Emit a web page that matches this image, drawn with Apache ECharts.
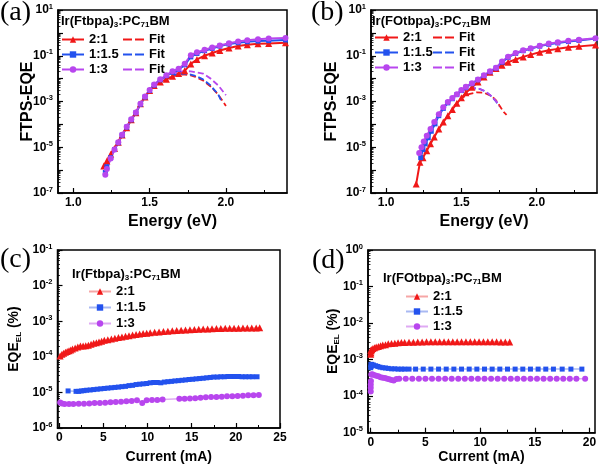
<!DOCTYPE html>
<html>
<head>
<meta charset="utf-8">
<title>FTPS-EQE and EQE_EL</title>
<script src="https://cdn.jsdelivr.net/npm/echarts@6/dist/echarts.min.js"></script>
<style>
  * { margin: 0; padding: 0; }
  #main { width: 600px; height: 469px; }
</style>
</head>
<body>
<div id="main"></div>
<script>
// ---------- data ----------
// (a) Ir(Ftbpa)3:PC71BM, FTPS-EQE vs energy (eV)
var aE_red  = [1.20,1.22,1.245,1.27,1.295,1.32,1.35,1.38,1.41,1.44,1.47,1.50,1.53,1.57,1.61,1.65,1.69,1.73,1.77,1.81,1.86,1.91,1.96,2.02,2.08,2.14,2.21,2.28,2.39];
var aY_red  = [1.5e-6,2.5e-6,5.0e-6,8.9e-6,1.66e-5,3.4e-5,7.1e-5,1.58e-4,3.2e-4,7.9e-4,1.58e-3,3.0e-3,5.0e-3,7.1e-3,9.3e-3,1.26e-2,1.66e-2,2.2e-2,4.4e-2,6.9e-2,0.100,0.132,0.170,0.219,0.269,0.302,0.331,0.347,0.372];
var aE_bp   = [1.21,1.22,1.245,1.27,1.295,1.32,1.35,1.38,1.41,1.44,1.47,1.50,1.53,1.57,1.61,1.65,1.69,1.73,1.77,1.81,1.86,1.91,1.96,2.02,2.08,2.14,2.21,2.28,2.39];
var aY_blue = [7.9e-7,1.41e-6,3.5e-6,7.9e-6,1.58e-5,3.4e-5,7.6e-5,1.58e-4,3.2e-4,7.6e-4,1.58e-3,3.0e-3,5.2e-3,8.9e-3,1.35e-2,1.9e-2,2.5e-2,4.0e-2,8.9e-2,0.126,0.166,0.209,0.263,0.324,0.372,0.407,0.437,0.457,0.490];
var aY_pur  = [6.3e-7,1.12e-6,3.2e-6,7.9e-6,1.66e-5,3.5e-5,7.9e-5,1.66e-4,3.3e-4,7.9e-4,1.66e-3,3.16e-3,5.5e-3,9.3e-3,1.41e-2,2.1e-2,2.7e-2,4.5e-2,0.105,0.141,0.182,0.229,0.282,0.355,0.417,0.479,0.525,0.562,0.603];
var aFitE      = [1.50,1.55,1.60,1.65,1.70,1.73,1.77,1.80,1.85,1.90,1.95,2.00];
var aFitE_blue = [1.50,1.55,1.60,1.65,1.70,1.73,1.77,1.80,1.85,1.90,1.95,1.975];
var aFit_red  = [3.2e-3,6.3e-3,1.0e-2,1.32e-2,1.48e-2,1.51e-2,1.38e-2,1.2e-2,8.3e-3,4.5e-3,2.0e-3,6.3e-4];
var aFit_blue = [3.2e-3,6.3e-3,1.05e-2,1.41e-2,1.62e-2,1.66e-2,1.51e-2,1.32e-2,9.3e-3,5.0e-3,2.0e-3,8.9e-4];
var aFit_pur  = [3.2e-3,6.3e-3,1.12e-2,1.66e-2,2.04e-2,2.14e-2,2.09e-2,1.9e-2,1.66e-2,1.0e-2,5.0e-3,1.9e-3];

// (b) Ir(FOtbpa)3:PC71BM
var bE_red  = [1.20,1.225,1.245,1.27,1.295,1.32,1.35,1.38,1.41,1.44,1.47,1.50,1.53,1.57,1.61,1.65,1.69,1.73,1.77,1.81,1.86,1.91,1.96,2.02,2.08,2.14,2.21,2.28,2.39];
var bY_red  = [2.5e-7,2.2e-6,3.5e-6,7.1e-6,1.41e-5,2.8e-5,6.3e-5,1.26e-4,2.4e-4,4.5e-4,8.3e-4,1.45e-3,2.4e-3,4.2e-3,7.1e-3,1.17e-2,1.9e-2,2.8e-2,3.8e-2,5.2e-2,6.9e-2,8.9e-2,0.112,0.141,0.174,0.200,0.234,0.257,0.295];
var bE_blue = [1.23,1.245,1.26,1.28,1.30,1.325,1.35,1.38,1.41,1.44,1.47,1.50,1.53,1.57,1.61,1.65,1.69,1.73,1.77,1.81,1.86,1.91,1.96,2.02,2.08,2.14,2.21,2.28,2.39];
var bY_blue = [3.5e-6,7.9e-6,1.41e-5,2.6e-5,5.0e-5,1.05e-4,2.4e-4,5.0e-4,8.7e-4,1.32e-3,2.0e-3,3.0e-3,4.2e-3,6.0e-3,8.9e-3,1.35e-2,2.0e-2,2.9e-2,5.2e-2,8.5e-2,0.126,0.166,0.204,0.263,0.316,0.363,0.417,0.468,0.562];
var bE_pur  = [1.22,1.235,1.25,1.27,1.295,1.32,1.35,1.38,1.41,1.44,1.47,1.50,1.53,1.57,1.61,1.65,1.69,1.73,1.77,1.81,1.86,1.91,1.96,2.02,2.08,2.14,2.21,2.28,2.39];
var bY_pur  = [5.6e-6,1.0e-5,1.78e-5,3.2e-5,6.3e-5,1.26e-4,2.8e-4,5.6e-4,9.5e-4,1.41e-3,2.1e-3,3.16e-3,4.4e-3,6.3e-3,9.1e-3,1.41e-2,2.1e-2,3.0e-2,5.6e-2,9.1e-2,0.132,0.174,0.214,0.275,0.339,0.389,0.447,0.501,0.589];
var bFitE     = [1.45,1.50,1.55,1.58,1.62,1.66,1.70,1.73,1.75];
var bFitE_red = [1.45,1.50,1.55,1.60,1.65,1.70,1.73,1.76,1.78,1.80];
var bFit_red  = [6.3e-4,1.41e-3,2.1e-3,2.5e-3,2.4e-3,1.74e-3,1.12e-3,5.6e-4,3.5e-4,2.6e-4];
var bFit_blue = [1.66e-3,2.8e-3,3.6e-3,3.8e-3,3.55e-3,2.75e-3,1.66e-3,1.0e-3,6.3e-4];
var bFit_pur  = [1.7e-3,2.9e-3,3.7e-3,3.9e-3,3.6e-3,2.8e-3,1.7e-3,1.05e-3,6.5e-4];

// (c) Ir(Ftbpa)3:PC71BM, EQE_EL (%) vs current (mA)
var cI_red = [0.1,0.3,0.5,0.7,0.9,1.1,1.3,1.5,1.8,2.1,2.4,2.7,3.0,3.3,3.6,3.9,4.2,4.5,4.8,5.1,5.5,5.9,6.3,6.7,7.1,7.5,7.9,8.3,8.7,9.1,9.5,9.9,10.3,10.8,11.3,11.8,12.3,12.8,13.3,13.8,14.3,14.8,15.3,15.8,16.3,16.8,17.3,17.8,18.3,18.8,19.3,19.8,20.3,20.8,21.3,21.8,22.3,22.7];
var cV_red = [1.05e-4,1.17e-4,1.26e-4,1.35e-4,1.41e-4,1.48e-4,1.55e-4,1.66e-4,1.78e-4,1.9e-4,2.0e-4,2.0e-4,2.04e-4,2.1e-4,2.24e-4,2.4e-4,2.5e-4,2.6e-4,2.75e-4,2.9e-4,3.0e-4,3.16e-4,3.3e-4,3.5e-4,3.6e-4,3.8e-4,3.9e-4,4.1e-4,4.2e-4,4.4e-4,4.5e-4,4.6e-4,4.7e-4,4.9e-4,5.0e-4,5.1e-4,5.25e-4,5.4e-4,5.5e-4,5.6e-4,5.65e-4,5.75e-4,5.85e-4,5.9e-4,6.0e-4,6.05e-4,6.15e-4,6.2e-4,6.2e-4,6.3e-4,6.3e-4,6.3e-4,6.35e-4,6.45e-4,6.45e-4,6.4e-4,6.45e-4,6.5e-4];
var cI_blue = [1.0,1.9,2.2,2.5,2.8,3.1,3.5,3.9,4.3,4.7,5.1,5.5,5.9,6.3,6.7,7.1,7.5,7.9,8.3,8.7,9.1,9.5,9.9,10.3,10.7,11.1,11.5,11.9,12.3,12.7,13.1,13.5,13.9,14.3,14.7,15.1,15.5,15.9,16.3,16.7,17.1,17.5,17.9,18.3,18.7,19.1,19.5,19.9,20.3,20.7,21.1,21.5,21.9,22.4];
var cV_blue = [1.1e-5,1.07e-5,1.07e-5,1.1e-5,1.12e-5,1.15e-5,1.17e-5,1.2e-5,1.23e-5,1.26e-5,1.29e-5,1.32e-5,1.35e-5,1.38e-5,1.41e-5,1.45e-5,1.48e-5,1.55e-5,1.58e-5,1.66e-5,1.7e-5,1.74e-5,1.78e-5,1.86e-5,1.9e-5,1.9e-5,1.86e-5,1.95e-5,2.0e-5,2.04e-5,2.1e-5,2.14e-5,2.19e-5,2.24e-5,2.3e-5,2.34e-5,2.4e-5,2.45e-5,2.5e-5,2.57e-5,2.63e-5,2.7e-5,2.7e-5,2.75e-5,2.75e-5,2.8e-5,2.8e-5,2.8e-5,2.8e-5,2.75e-5,2.75e-5,2.75e-5,2.75e-5,2.75e-5];
var cI_pur = [0.1,0.3,0.6,1.1,1.6,2.2,2.8,3.4,4.0,4.6,5.2,5.8,6.4,7.0,7.6,8.2,8.8,9.4,9.9,10.5,11.1,11.7,13.6,14.2,14.8,15.4,16.0,16.6,17.2,17.8,18.4,19.0,19.6,20.2,20.8,21.4,22.0,22.6];
var cV_pur = [5.2e-6,4.9e-6,4.7e-6,4.7e-6,4.7e-6,4.8e-6,4.8e-6,4.9e-6,5.0e-6,5.0e-6,5.1e-6,5.25e-6,5.4e-6,5.5e-6,5.6e-6,5.75e-6,6.0e-6,5.0e-6,6.0e-6,6.15e-6,6.15e-6,6.3e-6,6.6e-6,6.6e-6,6.75e-6,6.9e-6,7.1e-6,7.25e-6,7.4e-6,7.4e-6,7.6e-6,7.8e-6,7.8e-6,7.9e-6,8.1e-6,8.3e-6,8.3e-6,8.5e-6];

// (d) Ir(FOtbpa)3:PC71BM
var dI_red = [0.0,0.0,0.02,0.05,0.1,0.2,0.35,0.5,0.7,0.9,1.1,1.35,1.6,1.9,2.2,2.5,2.8,3.1,3.5,3.9,4.3,4.7,5.1,5.5,5.9,6.3,6.7,7.1,7.5,7.9,8.3,8.7,9.1,9.5,9.9,10.3,10.7,11.1,11.5,11.9,12.3,12.7];
var dV_red = [1.4e-3,1.8e-3,1.55e-3,1.75e-3,1.9e-3,2.0e-3,2.1e-3,2.2e-3,2.3e-3,2.4e-3,2.5e-3,2.57e-3,2.7e-3,2.75e-3,2.8e-3,2.9e-3,2.95e-3,2.95e-3,3.0e-3,3.0e-3,3.05e-3,3.05e-3,3.1e-3,3.1e-3,3.1e-3,3.1e-3,3.1e-3,3.1e-3,3.1e-3,3.1e-3,3.1e-3,3.1e-3,3.1e-3,3.1e-3,3.1e-3,3.1e-3,3.1e-3,3.1e-3,3.1e-3,3.05e-3,3.05e-3,3.05e-3];
var dI_blue = [0.0,0.02,0.05,0.1,0.25,0.45,0.65,0.85,1.1,1.35,1.6,1.9,2.2,2.5,2.8,3.1,3.5,4.1,4.8,5.5,6.2,6.9,7.6,8.3,9.0,9.7,10.4,11.1,11.8,12.5,13.2,13.9,14.6,15.3,16.0,16.7,17.5,18.3,19.3];
var dV_blue = [6.0e-4,7.4e-4,6.6e-4,7.4e-4,7.1e-4,6.8e-4,6.5e-4,6.2e-4,6.0e-4,5.9e-4,5.75e-4,5.6e-4,5.6e-4,5.5e-4,5.5e-4,5.5e-4,5.5e-4,5.5e-4,5.5e-4,5.5e-4,5.5e-4,5.5e-4,5.5e-4,5.5e-4,5.5e-4,5.5e-4,5.5e-4,5.5e-4,5.5e-4,5.5e-4,5.5e-4,5.5e-4,5.5e-4,5.5e-4,5.5e-4,5.5e-4,5.5e-4,5.5e-4,5.5e-4];
var dI_pur = [0.0,0.0,0.0,0.02,0.05,0.15,0.3,0.5,0.7,0.9,1.1,1.3,1.5,1.7,1.9,2.1,2.35,2.6,3.2,3.8,4.4,5.0,5.6,6.2,6.8,7.4,8.0,8.6,9.2,9.8,10.4,11.0,11.6,12.2,12.8,13.4,14.0,14.6,15.2,15.8,16.4,17.0,17.6,18.2,18.8,19.6];
var dV_pur = [1.35e-4,1.7e-4,2.1e-4,2.6e-4,3.9e-4,4.0e-4,3.8e-4,3.6e-4,3.5e-4,3.3e-4,3.2e-4,3.16e-4,3.0e-4,2.9e-4,2.75e-4,2.7e-4,2.95e-4,3.0e-4,3.0e-4,3.0e-4,3.0e-4,3.0e-4,3.0e-4,3.0e-4,3.0e-4,3.0e-4,3.0e-4,3.0e-4,3.0e-4,3.0e-4,3.0e-4,3.0e-4,3.0e-4,3.0e-4,3.0e-4,3.0e-4,3.0e-4,3.0e-4,3.0e-4,3.0e-4,3.0e-4,3.0e-4,3.0e-4,3.0e-4,3.0e-4,3.0e-4];

// ticks
var eLabels = [1.0, 1.5, 2.0];
var eMinor  = [1.25, 1.75, 2.25];
var cLabels = [0, 5, 10, 15, 20, 25];
var cMinor  = [2.5, 7.5, 12.5, 17.5, 22.5];
var dLabels = [0, 5, 10, 15, 20];
var dMinor  = [2.5, 7.5, 12.5, 17.5];
var abDecades = [1e-7, 1e-6, 1e-5, 1e-4, 1e-3, 1e-2, 1e-1, 1, 10];
var abLabels  = [1e-7, 1e-5, 1e-3, 1e-1, 10];
var cDecades  = [1e-6, 1e-5, 1e-4, 1e-3, 1e-2, 1e-1];
var dDecades  = [1e-5, 1e-4, 1e-3, 1e-2, 1e-1, 1];

// ---------- styling ----------
var FONT = 'Arial, "Liberation Sans", Helvetica, sans-serif';
var SERIF = '"Liberation Serif", "Times New Roman", serif';
var RED = '#f01818', BLUE = '#2352ee', PUR = '#b846ee';
var RED_L = '#f6a6a6', BLUE_L = '#a9b9f2', PUR_L = '#dfaaf3';

function pairs(xs, ys) {
    return xs.map(function (x, i) { return [x, ys[i]]; });
}
function minors(decades) {
    var out = [];
    for (var i = 0; i < decades.length - 1; i++) {
        for (var k = 2; k <= 9; k++) out.push(k * decades[i]);
    }
    return out;
}
function expLabel(v) {
    return '10{sup|' + Math.round(Math.log10(v)) + '}';
}

var black = { color: '#000', width: 1.5 };
var labelFont = { fontFamily: FONT, fontWeight: 'bold', fontSize: 12, color: '#000' };

function xMajor(gi, min, max, labels, name, gap, nameSize, fmt) {
    return {
        type: 'value', gridIndex: gi, min: min, max: max, position: 'bottom',
        name: name, nameLocation: 'middle', nameGap: gap, nameMoveOverlap: false,
        nameTextStyle: { fontFamily: FONT, fontWeight: 'bold', fontSize: nameSize, color: '#000' },
        axisLine: { show: true, onZero: false, lineStyle: black },
        axisTick: { show: true, inside: true, length: 5, customValues: labels, lineStyle: { color: '#000', width: 1.2 } },
        axisLabel: Object.assign({ show: true, margin: 4, customValues: labels, formatter: fmt }, labelFont),
        splitLine: { show: false }
    };
}
function xMinor(gi, min, max, vals) {
    return {
        type: 'value', gridIndex: gi, min: min, max: max, position: 'bottom',
        axisLine: { show: false, onZero: false },
        axisTick: { show: true, inside: true, length: 3, customValues: vals, lineStyle: { color: '#000', width: 1 } },
        axisLabel: { show: false }, splitLine: { show: false }
    };
}
function yMajor(gi, min, max, decades, labels, name, gap, nameSize) {
    return {
        type: 'log', logBase: 10, gridIndex: gi, min: min, max: max, position: 'left',
        name: name, nameLocation: 'middle', nameGap: gap, nameMoveOverlap: false,
        nameTextStyle: {
            fontFamily: FONT, fontWeight: 'bold', fontSize: nameSize, color: '#000',
            rich: { sub: { fontFamily: FONT, fontWeight: 'bold', fontSize: 8, color: '#000', padding: [8, 0, 0, 0] } }
        },
        axisLine: { show: true, onZero: false, lineStyle: black },
        axisTick: { show: true, inside: true, length: 5, customValues: decades, lineStyle: { color: '#000', width: 1.2 } },
        axisLabel: Object.assign({
            show: true, margin: 5, customValues: labels, formatter: expLabel,
            rich: { sup: { fontFamily: FONT, fontWeight: 'bold', fontSize: 7.5, color: '#000', padding: [0, 0, 7, 0] } }
        }, labelFont),
        splitLine: { show: false }
    };
}
function yMinor(gi, min, max, decades) {
    return {
        type: 'log', logBase: 10, gridIndex: gi, min: min, max: max, position: 'left',
        axisLine: { show: false, onZero: false },
        axisTick: { show: true, inside: true, length: 2.5, customValues: minors(decades), lineStyle: { color: '#000', width: 0.8 } },
        axisLabel: { show: false }, splitLine: { show: false }
    };
}

function dataLine(name, gi, xs, ys, color, lineColor, symbol, size, width) {
    return {
        name: name, type: 'line', xAxisIndex: 2 * gi, yAxisIndex: 2 * gi,
        data: pairs(xs, ys), symbol: symbol, symbolSize: size, showAllSymbol: true,
        itemStyle: { color: color }, lineStyle: { color: lineColor, width: width },
        silent: true, animation: false
    };
}
function fitLine(name, gi, xs, ys, color) {
    return {
        name: name, type: 'line', xAxisIndex: 2 * gi, yAxisIndex: 2 * gi,
        data: pairs(xs, ys), symbol: 'none', showSymbol: false,
        itemStyle: { color: color }, lineStyle: { color: color, width: 1.8, type: [6, 3] },
        silent: true, animation: false, z: 3
    };
}

var legendText = { fontFamily: FONT, fontWeight: 'bold', fontSize: 13, color: '#000' };
function legendOf(names, left, top, w, extra) {
    return Object.assign({
        left: left, top: top, orient: 'vertical', data: names, padding: 0,
        itemWidth: w, itemHeight: 8, itemGap: 2, selectedMode: false,
        formatter: function (n) { return n.split('|')[1]; },
        textStyle: legendText
    }, extra || {});
}
var dashIcon = 'path://M0,0L9,0L9,2L0,2Z M12,0L21,0L21,2L12,2Z';

function panelTitle(t, left, top) {
    return { text: t, left: left, top: top, padding: 0,
        textStyle: { fontFamily: SERIF, fontWeight: 'normal', fontSize: 28, color: '#000' } };
}
function header(t, left, top) {
    return { text: t, left: left, top: top, padding: 0,
        textStyle: { fontFamily: FONT, fontWeight: 'bold', fontSize: 13, color: '#000',
            rich: { s: { fontFamily: FONT, fontWeight: 'bold', fontSize: 8, color: '#000', padding: [8, 0, 0, 0] } } } };
}

var gridBase = { show: true, borderColor: '#000', borderWidth: 1.5, backgroundColor: 'transparent', containLabel: false, outerBoundsMode: 'none' };

var myChart = echarts.init(document.getElementById('main'), null, { renderer: 'canvas' });
var option = {
    animation: false,
    backgroundColor: '#fff',
    title: [
        panelTitle('(a)', 0, -1), panelTitle('(b)', 311, -1),
        panelTitle('(c)', 0, 246), panelTitle('(d)', 312, 247),
        header('Ir(Ftbpa){s|3}:PC{s|71}BM', 61, 13),
        header('Ir(FOtbpa){s|3}:PC{s|71}BM', 372, 13),
        header('Ir(Ftbpa){s|3}:PC{s|71}BM', 72, 266),
        header('Ir(FOtbpa){s|3}:PC{s|71}BM', 383, 270)
    ],
    grid: [
        Object.assign({ left: 58, top: 10, width: 229, height: 183 }, gridBase),
        Object.assign({ left: 371, top: 10, width: 226, height: 183 }, gridBase),
        Object.assign({ left: 57.5, top: 250, width: 222.5, height: 178 }, gridBase),
        Object.assign({ left: 368, top: 250, width: 227, height: 182.7 }, gridBase)
    ],
    xAxis: [
        xMajor(0, 0.9, 2.4, eLabels, 'Energy (eV)', 21, 16, function (v) { return v.toFixed(1); }),
        xMinor(0, 0.9, 2.4, eMinor),
        xMajor(1, 0.9, 2.4, eLabels, 'Energy (eV)', 21, 16, function (v) { return v.toFixed(1); }),
        xMinor(1, 0.9, 2.4, eMinor),
        xMajor(2, -0.2, 25, cLabels, 'Current (mA)', 22, 14, function (v) { return String(v); }),
        xMinor(2, -0.2, 25, cMinor),
        xMajor(3, -0.25, 20.5, dLabels, 'Current (mA)', 17, 14, function (v) { return String(v); }),
        xMinor(3, -0.25, 20.5, dMinor)
    ],
    yAxis: [
        yMajor(0, 1e-7, 10, abDecades, abLabels, 'FTPS-EQE', 22, 16),
        yMinor(0, 1e-7, 10, abDecades),
        yMajor(1, 1e-7, 10, abDecades, abLabels, 'FTPS-EQE', 31, 16),
        yMinor(1, 1e-7, 10, abDecades),
        yMajor(2, 1e-6, 0.1, cDecades, cDecades, 'EQE{sub|EL} (%)', 35, 14),
        yMinor(2, 1e-6, 0.1, cDecades),
        yMajor(3, 1e-5, 1, dDecades, dDecades, 'EQE{sub|EL} (%)', 27, 14),
        yMinor(3, 1e-5, 1, dDecades)
    ],
    legend: [
        legendOf(['a|2:1', 'a|1:1.5', 'a|1:3'], 61, 33, 22),
        legendOf(['a|Fit|r', 'a|Fit|b', 'a|Fit|p'], 123, 33, 21, { icon: dashIcon }),
        legendOf(['b|2:1', 'b|1:1.5', 'b|1:3'], 374, 31, 23),
        legendOf(['b|Fit|r', 'b|Fit|b', 'b|Fit|p'], 433, 31, 21, { icon: dashIcon }),
        legendOf(['c|2:1', 'c|1:1.5', 'c|1:3'], 88, 285, 22, { itemGap: 3 }),
        legendOf(['d|2:1', 'd|1:1.5', 'd|1:3'], 405, 290, 22, { itemGap: 2 })
    ],
    series: [
        dataLine('a|2:1', 0, aE_red, aY_red, RED, RED, 'triangle', 7, 2),
        dataLine('a|1:1.5', 0, aE_bp, aY_blue, BLUE, BLUE, 'rect', 5, 2),
        dataLine('a|1:3', 0, aE_bp, aY_pur, PUR, PUR, 'circle', 6, 2),
        fitLine('a|Fit|r', 0, aFitE, aFit_red, RED),
        fitLine('a|Fit|b', 0, aFitE_blue, aFit_blue, BLUE),
        fitLine('a|Fit|p', 0, aFitE, aFit_pur, PUR),

        dataLine('b|2:1', 1, bE_red, bY_red, RED, RED, 'triangle', 7, 2),
        dataLine('b|1:1.5', 1, bE_blue, bY_blue, BLUE, BLUE, 'rect', 5, 2),
        dataLine('b|1:3', 1, bE_pur, bY_pur, PUR, PUR, 'circle', 6, 2),
        fitLine('b|Fit|r', 1, bFitE_red, bFit_red, RED),
        fitLine('b|Fit|b', 1, bFitE, bFit_blue, BLUE),
        fitLine('b|Fit|p', 1, bFitE, bFit_pur, PUR),

        dataLine('c|2:1', 2, cI_red, cV_red, RED, RED_L, 'triangle', 7, 1.5),
        dataLine('c|1:1.5', 2, cI_blue, cV_blue, BLUE, BLUE_L, 'rect', 5, 1.5),
        dataLine('c|1:3', 2, cI_pur, cV_pur, PUR, PUR_L, 'circle', 6, 1.5),

        dataLine('d|2:1', 3, dI_red, dV_red, RED, RED_L, 'triangle', 7, 1.5),
        dataLine('d|1:1.5', 3, dI_blue, dV_blue, BLUE, BLUE_L, 'rect', 5, 1.5),
        dataLine('d|1:3', 3, dI_pur, dV_pur, PUR, PUR_L, 'circle', 6, 1.5)
    ]
};
myChart.setOption(option);
</script>
</body>
</html>
